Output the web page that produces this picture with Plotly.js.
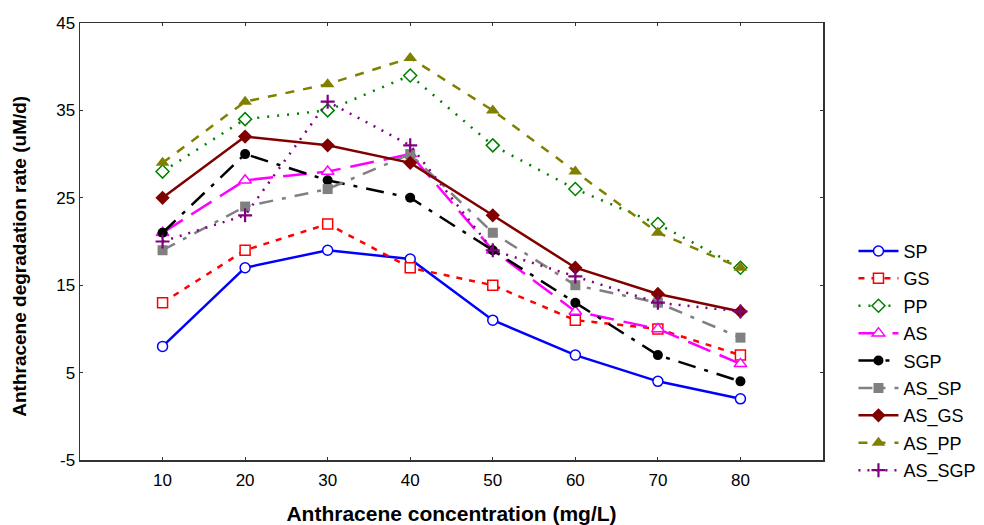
<!DOCTYPE html>
<html>
<head>
<meta charset="utf-8">
<script src="https://cdn.plot.ly/plotly-3.0.1.min.js"></script>
<style>
html,body{margin:0;padding:0;background:#fff;}
#chart{width:984px;height:525px;}
</style>
</head>
<body>
<div id="chart"></div>
<script>
const concentration = [10, 20, 30, 40, 50, 60, 70, 80];
const SP     = [8, 17, 19, 18, 11, 7, 4, 2];
const GS     = [13, 19, 22, 17, 15, 11, 10, 7];
const PP     = [28, 34, 35, 39, 31, 26, 22, 17];
const AS     = [21, 27, 28, 30, 19, 12, 10, 6];
const SGP    = [21, 30, 27, 25, 19, 13, 7, 4];
const AS_SP  = [19, 24, 26, 30, 21, 15, 13, 9];
const AS_GS  = [25, 32, 31, 29, 23, 17, 14, 12];
const AS_PP  = [29, 36, 38, 41, 35, 28, 21, 17];
const AS_SGP = [20, 23, 36, 31, 19, 16, 13, 12];
const xTicks = [10, 20, 30, 40, 50, 60, 70, 80];
const yTicks = [-5, 5, 15, 25, 35, 45];

function tr(name, y, color, dash, symbol, filled, msize) {
  return {
    x: concentration, y: y, name: name, type: 'scatter', mode: 'lines+markers',
    legendgroup: name,
    line: {color: color, width: 2.5, dash: dash},
    marker: {symbol: symbol, size: msize || 10,
             color: filled ? color : '#ffffff',
             line: {color: color, width: filled ? 0 : 1.5}}
  };
}

const data = [
  tr('SP', SP, '#0000ff', 'solid', 'circle', false, 10),
  tr('GS', GS, '#ff0000', '6px,7px', 'square', false, 10),
  tr('PP', PP, '#008000', '2px,8px', 'diamond', false, 10),
  tr('AS', AS, '#ff00ff', '24px,10px', 'triangle-up', false, 11),
  tr('SGP', SGP, '#000000', '18px,9px,4px,9px', 'circle', true, 10),
  tr('AS_SP', AS_SP, '#808080', '14px,9px,4px,9px', 'square', true, 10),
  tr('AS_GS', AS_GS, '#800000', 'solid', 'diamond', true, 11),
  tr('AS_PP', AS_PP, '#808000', '9px,9px', 'triangle-up', true, 12),
  {
    x: concentration, y: AS_SGP, name: 'AS_SGP', type: 'scatter', mode: 'lines+markers',
    legendgroup: 'AS_SGP',
    line: {color: '#800080', width: 2.5, dash: '2px,7px'},
    marker: {symbol: 'cross-thin', size: 10, color: '#800080', line: {color: '#800080', width: 2.2}}
  }
];

const layout = {
  width: 984, height: 525,
  margin: {l: 80, r: 161, t: 23, b: 65, autoexpand: false},
  paper_bgcolor: '#ffffff', plot_bgcolor: '#ffffff',
  font: {family: 'Arial, "Liberation Sans", sans-serif', color: '#000000'},
  showlegend: true,
  legend: {
    x: 1.041, xanchor: 'left', y: 0.52, yanchor: 'top',
    font: {size: 18, color: '#000000'},
    tracegroupgap: 1, itemwidth: 40,
    bgcolor: 'rgba(0,0,0,0)'
  },
  xaxis: {
    range: [0, 90], tickvals: xTicks, ticktext: xTicks.map(String),
    ticks: 'inside', ticklen: 3, tickwidth: 1, tickcolor: '#333',
    showline: true, linecolor: '#333', linewidth: 1.5, mirror: 'ticks',
    showgrid: false, zeroline: false,
    tickfont: {size: 17}, ticklabelstandoff: 4,
    title: {text: '<b>Anthracene concentration (mg/L)</b>', font: {size: 21}, standoff: 18}
  },
  yaxis: {
    range: [-5, 45], tickvals: yTicks, ticktext: yTicks.map(String),
    ticks: 'inside', ticklen: 3, tickwidth: 1, tickcolor: '#333',
    showline: true, linecolor: '#333', linewidth: 1.5, mirror: 'ticks',
    showgrid: false, zeroline: false,
    tickfont: {size: 17}
  },
  annotations: [{
    text: '<b>Anthracene degradation rate (uM/d)</b>',
    xref: 'paper', yref: 'paper', x: -0.081, y: 0.467,
    xanchor: 'center', yanchor: 'middle', textangle: -90,
    showarrow: false, font: {size: 19, color: '#000000'}
  }]
};

Plotly.newPlot('chart', data, layout, {displayModeBar: false, staticPlot: true});
</script>
</body>
</html>
